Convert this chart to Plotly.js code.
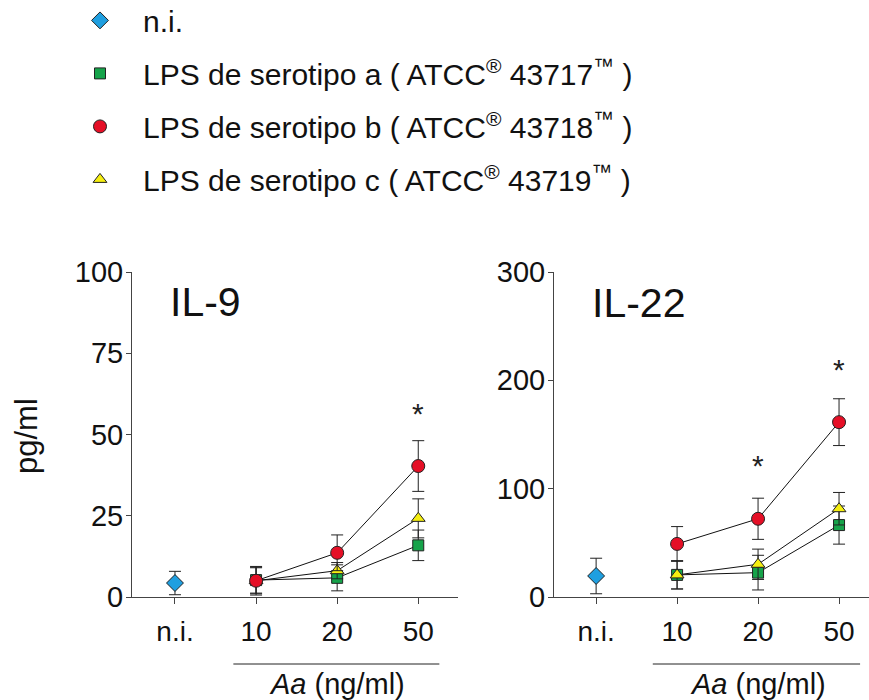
<!DOCTYPE html>
<html>
<head>
<meta charset="utf-8">
<script src="https://cdn.plot.ly/plotly-3.0.1.min.js"></script>
<style>
  html, body { margin: 0; padding: 0; background: #fff; }
  #chart { width: 869px; height: 700px; }
</style>
</head>
<body>
<div id="chart"></div>
<script>
// ---- data ----
const xCats = ['n.i.', '10', '20', '50'];
const doseCats = ['10', '20', '50'];
const niCat = ['n.i.'];

const seriesNames = [
  'n.i.',
  'LPS de serotipo a ( ATCC<sup>®</sup> 43717<sup>™</sup> )',
  'LPS de serotipo b ( ATCC<sup>®</sup> 43718<sup>™</sup> )',
  'LPS de serotipo c ( ATCC<sup>®</sup> 43719<sup>™</sup> )'
];

// IL-9 (pg/ml)
const il9Ni = [4.3];
const il9NiErr = [3.6];
const il9A = [5.2, 5.9, 15.9];
const il9AErr = [4.0, 4.0, 4.7];
const il9B = [5.0, 13.6, 40.3];
const il9BErr = [4.4, 5.5, 7.8];
const il9C = [5.0, 8.1, 24.2];
const il9CErr = [4.0, 2.5, 6.0];

// IL-22 (pg/ml)
const il22Ni = [19.4];
const il22NiErr = [16.4];
const il22A = [20.4, 22.5, 66.4];
const il22AErr = [13.0, 16.0, 17.6];
const il22B = [49.0, 72.2, 161.4];
const il22BErr = [16.0, 19.0, 21.6];
const il22C = [20.4, 30.2, 81.5];
const il22CErr = [13.0, 14.0, 15.0];

// significance markers: [category, value]
const il9Stars = [['50', 57.8]];
const il22Stars = [['20', 125], ['50', 214]];

// ---- styles ----
const FONT = 'Liberation Sans, Arial, Helvetica, sans-serif';
const colors = { ni: '#1f9fe0', a: '#16a34a', b: '#e50f26', c: '#f5ee10' };
const markerStyle = {
  ni: { symbol: 'diamond', size: 13, color: colors.ni },
  a:  { symbol: 'square', size: 11, color: colors.a },
  b:  { symbol: 'circle', size: 13, color: colors.b },
  c:  { symbol: 'triangle-up', size: 12, color: colors.c }
};

function errBar(arr) {
  return { type: 'data', array: arr, visible: true, color: '#222', thickness: 1, width: 6 };
}
function lineTrace(y, xa, ya) {
  return { x: doseCats, y: y, xaxis: xa, yaxis: ya, mode: 'lines', type: 'scatter',
           line: { color: '#111', width: 1 }, showlegend: false, hoverinfo: 'skip' };
}
function markTrace(x, y, err, key, name, rank, xa, ya, showLeg) {
  const m = markerStyle[key];
  return { x: x, y: y, xaxis: xa, yaxis: ya, mode: 'markers', type: 'scatter',
           name: name, legendgroup: key, legendrank: rank, showlegend: showLeg,
           cliponaxis: false,
           marker: { symbol: m.symbol, size: m.size, color: m.color, line: { color: '#222', width: 1 } },
           error_y: errBar(err) };
}

const traces = [
  lineTrace(il9A, 'x', 'y'), lineTrace(il9C, 'x', 'y'), lineTrace(il9B, 'x', 'y'),
  markTrace(niCat, il9Ni, il9NiErr, 'ni', seriesNames[0], 1, 'x', 'y', true),
  markTrace(doseCats, il9A, il9AErr, 'a', seriesNames[1], 2, 'x', 'y', true),
  markTrace(doseCats, il9C, il9CErr, 'c', seriesNames[3], 4, 'x', 'y', true),
  markTrace(doseCats, il9B, il9BErr, 'b', seriesNames[2], 3, 'x', 'y', true),

  lineTrace(il22A, 'x2', 'y2'), lineTrace(il22C, 'x2', 'y2'), lineTrace(il22B, 'x2', 'y2'),
  markTrace(niCat, il22Ni, il22NiErr, 'ni', seriesNames[0], 1, 'x2', 'y2', false),
  markTrace(doseCats, il22A, il22AErr, 'a', seriesNames[1], 2, 'x2', 'y2', false),
  markTrace(doseCats, il22B, il22BErr, 'b', seriesNames[2], 3, 'x2', 'y2', false),
  markTrace(doseCats, il22C, il22CErr, 'c', seriesNames[3], 4, 'x2', 'y2', false)
];

const W = 869, H = 700;
const yDom = [(H - 597) / H, (H - 272) / H];

function xAxis(domain, range, anchor) {
  return {
    type: 'category', categoryorder: 'array', categoryarray: xCats,
    domain: domain, range: range, anchor: anchor,
    showline: true, linecolor: '#444', linewidth: 1, mirror: false,
    ticks: 'outside', ticklen: 6, tickcolor: '#444', tickwidth: 1,
    showgrid: false, zeroline: false, fixedrange: true,
    tickfont: { family: FONT, size: 28, color: '#111' },
    ticklabelstandoff: 3
  };
}
function yAxis(range, dtick, anchor) {
  return {
    domain: yDom, range: range, dtick: dtick, anchor: anchor,
    showline: true, linecolor: '#444', linewidth: 1,
    ticks: 'outside', ticklen: 5, tickcolor: '#444', tickwidth: 1,
    showgrid: false, zeroline: false, fixedrange: true,
    tickfont: { family: FONT, size: 29, color: '#111' },
    ticklabelstandoff: -3
  };
}

const annotations = [
  { text: 'IL-9', xref: 'paper', yref: 'paper', x: 168 / W, y: (H - 302) / H,
    xanchor: 'left', yanchor: 'middle', showarrow: false,
    font: { family: FONT, size: 41, color: '#111' } },
  { text: 'IL-22', xref: 'paper', yref: 'paper', x: 590 / W, y: (H - 303) / H,
    xanchor: 'left', yanchor: 'middle', showarrow: false,
    font: { family: FONT, size: 41, color: '#111' } },
  { text: 'pg/ml', xref: 'paper', yref: 'paper', x: 27 / W, y: (H - 436) / H,
    textangle: -90, xanchor: 'center', yanchor: 'middle', showarrow: false,
    font: { family: FONT, size: 31, color: '#111' } },
  { text: '<i>Aa</i> (ng/ml)', xref: 'x', yref: 'paper', x: 2, y: (H - 684) / H,
    xanchor: 'center', yanchor: 'middle', showarrow: false,
    font: { family: FONT, size: 29, color: '#111' } },
  { text: '<i>Aa</i> (ng/ml)', xref: 'x2', yref: 'paper', x: 2, y: (H - 684) / H,
    xanchor: 'center', yanchor: 'middle', showarrow: false,
    font: { family: FONT, size: 29, color: '#111' } }
];
function starAnn(s, xa, ya) {
  return { text: '*', xref: xa, yref: ya, x: xCats.indexOf(s[0]), y: s[1],
    xanchor: 'center', yanchor: 'middle', showarrow: false, yshift: -4,
    font: { family: FONT, size: 30, color: '#222' } };
}
il9Stars.forEach(s => annotations.push(starAnn(s, 'x', 'y')));
il22Stars.forEach(s => annotations.push(starAnn(s, 'x2', 'y2')));

const lineY = (H - 664) / H;
const shapes = [
  { type: 'line', xref: 'x', yref: 'paper', x0: 0.72, x1: 3.26, y0: lineY, y1: lineY,
    line: { color: '#222', width: 1 } },
  { type: 'line', xref: 'x2', yref: 'paper', x0: 0.70, x1: 3.26, y0: lineY, y1: lineY,
    line: { color: '#222', width: 1 } }
];

const layout = {
  width: W, height: H,
  margin: { l: 0, r: 0, t: 0, b: 0, autoexpand: false },
  paper_bgcolor: '#fff', plot_bgcolor: '#fff',
  font: { family: FONT, color: '#111' },
  xaxis: xAxis([132 / W, 458 / W], [-0.53, 3.49], 'y'),
  yaxis: yAxis([0, 100], 25, 'x'),
  xaxis2: xAxis([554 / W, 1.0], [-0.52, 3.37], 'y2'),
  yaxis2: yAxis([0, 300], 100, 'x2'),
  showlegend: true,
  legend: {
    x: 57 / W, y: 1.008, xanchor: 'left', yanchor: 'top',
    font: { family: FONT, size: 30, color: '#111' },
    bgcolor: 'rgba(0,0,0,0)', borderwidth: 0,
    itemwidth: 76,
    tracegroupgap: 11, traceorder: 'grouped', itemsizing: 'trace'
  },
  annotations: annotations,
  shapes: shapes
};

Plotly.newPlot('chart', traces, layout, { displayModeBar: false, staticPlot: true });
</script>
</body>
</html>
